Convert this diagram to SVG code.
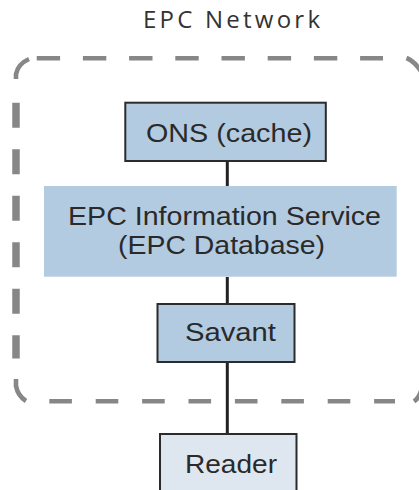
<svg xmlns="http://www.w3.org/2000/svg" width="419" height="490" viewBox="0 0 419 490">
<style>
.dash{fill:none;stroke:#878787;stroke-width:4.6}
.side{fill:none;stroke:#878787;stroke-width:7.5}
.box{fill:#b3cbe0;stroke:#2b2b2b;stroke-width:2}
.lbl{font-family:"Liberation Sans",Arial,sans-serif;font-size:26px;fill:#2a2a2a}
.conn{stroke:#222;stroke-width:3;fill:none}
</style>
<rect width="419" height="490" fill="#ffffff"/>
<text x="143" y="28" font-family="'Open Sans','Noto Sans',sans-serif" font-size="24" fill="#333" textLength="177" lengthAdjust="spacing">EPC Network</text>
<g id="network-boundary">
<line class="dash" x1="36.7" y1="58.3" x2="383" y2="58.3" stroke-dasharray="23.4 22.8"/>
<line class="dash" x1="49.3" y1="401.3" x2="395" y2="401.3" stroke-dasharray="22.6 23.8"/>
<line class="side" x1="16" y1="102.7" x2="16" y2="358.5" stroke-dasharray="25 21.5"/>
<path class="dash" d="M16,79 L16,74 Q18,64 29,59"/>
<path class="dash" d="M16,379 L16,386 Q18,396 26,401"/>
<path class="dash" d="M406.5,58 Q414,61 421,71"/>
<path class="dash" d="M421,391 Q419,398 414,401.3"/>
</g>
<g id="connectors">
<line class="conn" x1="227.3" y1="162" x2="227.3" y2="186"/>
<line class="conn" x1="227.3" y1="277" x2="227.3" y2="304"/>
<line class="conn" x1="227.3" y1="362" x2="227.3" y2="434"/>
</g>
<g id="ons">
<rect class="box" x="125.3" y="102.7" width="200.5" height="58.3"/>
<text class="lbl" x="146" y="141.5" textLength="166" lengthAdjust="spacingAndGlyphs">ONS (cache)</text>
</g>
<g id="epcis">
<rect x="44" y="186" width="352.7" height="90.7" fill="#b3cbe0"/>
<text class="lbl" x="68" y="225" textLength="313" lengthAdjust="spacingAndGlyphs">EPC Information Service</text>
<text class="lbl" x="118" y="254.3" textLength="207" lengthAdjust="spacingAndGlyphs">(EPC Database)</text>
</g>
<g id="savant">
<rect class="box" x="157.5" y="304" width="137" height="58"/>
<text class="lbl" x="185" y="340.7" textLength="91" lengthAdjust="spacingAndGlyphs">Savant</text>
</g>
<g id="reader">
<rect class="box" x="160" y="434" width="136.5" height="70" style="fill:#dee6ef"/>
<text class="lbl" x="185" y="472.7" textLength="92" lengthAdjust="spacingAndGlyphs">Reader</text>
</g>
</svg>
